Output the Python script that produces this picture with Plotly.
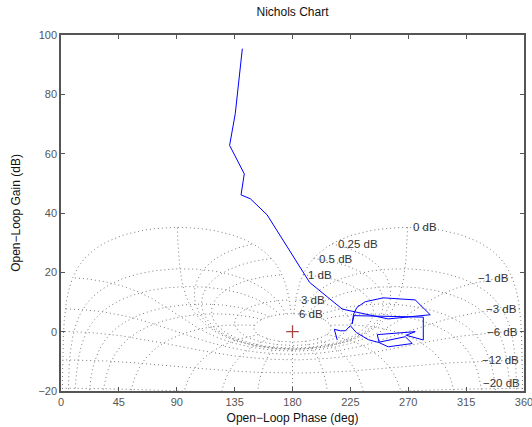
import numpy as np
import plotly.graph_objects as go

# Open-loop frequency response, low to high frequency (phase in deg, gain in dB)
loop_phase = [141.0, 135.5, 131.1, 142.5, 140.0, 147.2, 160.2, 193.3, 218.7,
              254.4, 287.1, 275.4, 250.6, 236.6, 230.1, 227.5, 226.3, 227.8,
              281.7, 281.7, 268.4, 275.4, 245.9, 247.4, 254.4, 273.1, 267.7,
              246.7, 239.0, 229.6, 225.0, 221.1, 217.2, 212.5, 214.8]
loop_gain = [95.4, 73.5, 62.8, 53.2, 46.1, 44.8, 39.4, 16.6, 7.6,
             4.3, 5.7, 10.7, 11.4, 10.1, 8.2, 5.9, 2.6, 5.4,
             4.9, -2.8, -1.2, 0.0, -1.0, -3.7, -5.1, -4.0, -1.7,
             -3.6, -2.7, -0.3, 2.0, 0.3, 0.3, 0.8, -2.8]

# Nichols grid levels: closed-loop gain (dB) and closed-loop phase (deg)
cl_gain_levels = [6, 3, 1, 0.5, 0.25, 0, -1, -3, -6, -12, -20, -40]
cl_phase_levels = [1, 5, 10, 20, 30, 50, 90, 120, 150, 180]

# Critical point
critical_phase = [180]
critical_gain = [0]

x_ticks = [0, 45, 90, 135, 180, 225, 270, 315, 360]
y_ticks = [-20, 0, 20, 40, 60, 80, 100]

MINUS = "\u2212"
FONT = "Liberation Sans, Arial, Helvetica, sans-serif"


def open_loop(m_db, phi_deg):
    """Open-loop point L = T/(1-T) for closed-loop T = M*exp(j*phi)."""
    t = 10 ** (np.asarray(m_db, float) / 20) * np.exp(1j * np.deg2rad(phi_deg))
    L = t / (1 - t)
    return np.mod(np.degrees(np.angle(L)), 360), 20 * np.log10(np.abs(L))


grid_x, grid_y = [], []

# constant closed-loop magnitude contours
phi_sweep = np.linspace(-1, -359, 2400)
for lvl in cl_gain_levels:
    p, g = open_loop(np.full_like(phi_sweep, lvl, dtype=float), phi_sweep)
    grid_x += list(p) + [None]
    grid_y += list(g) + [None]

# constant closed-loop phase contours
m_sweep = np.linspace(max(cl_gain_levels), -60, 3000)
for ph in cl_phase_levels:
    for s in ([1] if ph == 180 else [1, -1]):
        p, g = open_loop(m_sweep, s * ph)
        grid_x += list(p) + [None]
        grid_y += list(g) + [None]

fig = go.Figure()
fig.add_trace(go.Scatter(
    x=grid_x, y=grid_y, mode="lines", hoverinfo="skip",
    line=dict(color="#7a7a7a", width=1, dash="1px,3px"),
    connectgaps=False, showlegend=False))

fig.add_trace(go.Scatter(
    x=loop_phase, y=loop_gain, mode="lines",
    line=dict(color="#0000ff", width=1), showlegend=False))

fig.add_trace(go.Scatter(
    x=critical_phase, y=critical_gain, mode="markers",
    marker=dict(symbol="cross-thin", size=9,
                line=dict(color="#a84444", width=1.3)),
    showlegend=False))

# contour labels at the closed-loop phase of -1 deg
for lvl in cl_gain_levels:
    p, g = open_loop(lvl, -1.0)
    p, g = float(p), float(g)
    if g < -21:
        continue
    txt = f"{abs(lvl):g} dB"
    if lvl < 0:
        txt = MINUS + txt
    fig.add_annotation(
        x=p, y=max(g, -17.2), text=txt, showarrow=False,
        xanchor="left" if lvl >= 0 else "right", yanchor="middle",
        xshift=3.5 if lvl >= 0 else -1,
        font=dict(family=FONT, size=11.5, color="#333333"))

axis_common = dict(
    showline=True, linecolor="#555555", linewidth=1.5, mirror="allticks",
    ticks="inside", ticklen=4, tickcolor="#555555", tickwidth=1,
    showgrid=False, zeroline=False, automargin=False,
    ticklabeloverflow="allow",
    tickfont=dict(family=FONT, size=11, color="#555555"),
)

fig.update_layout(
    width=532, height=427,
    margin=dict(l=61, r=8, t=35, b=36),
    paper_bgcolor="white", plot_bgcolor="white",
    font=dict(family=FONT, color="#111111"),
    title=dict(text="Nichols Chart", x=0.5, xref="paper", xanchor="center",
               y=1 - 12 / 427, yref="container", yanchor="middle",
               font=dict(family=FONT, size=12, color="#111111")),
    xaxis=dict(range=[0, 360], tickvals=x_ticks,
               ticktext=[str(v) for v in x_ticks],
               title=dict(text=f"Open{MINUS}Loop Phase (deg)", standoff=7,
                          font=dict(family=FONT, size=12, color="#111111")),
               **axis_common),
    yaxis=dict(range=[-20, 100], tickvals=y_ticks,
               ticktext=[(MINUS + str(-v)) if v < 0 else str(v) for v in y_ticks],
               title=dict(text=f"Open{MINUS}Loop Gain (dB)", standoff=15,
                          font=dict(family=FONT, size=12, color="#111111")),
               **axis_common),
)

fig.write_html("out.html")
